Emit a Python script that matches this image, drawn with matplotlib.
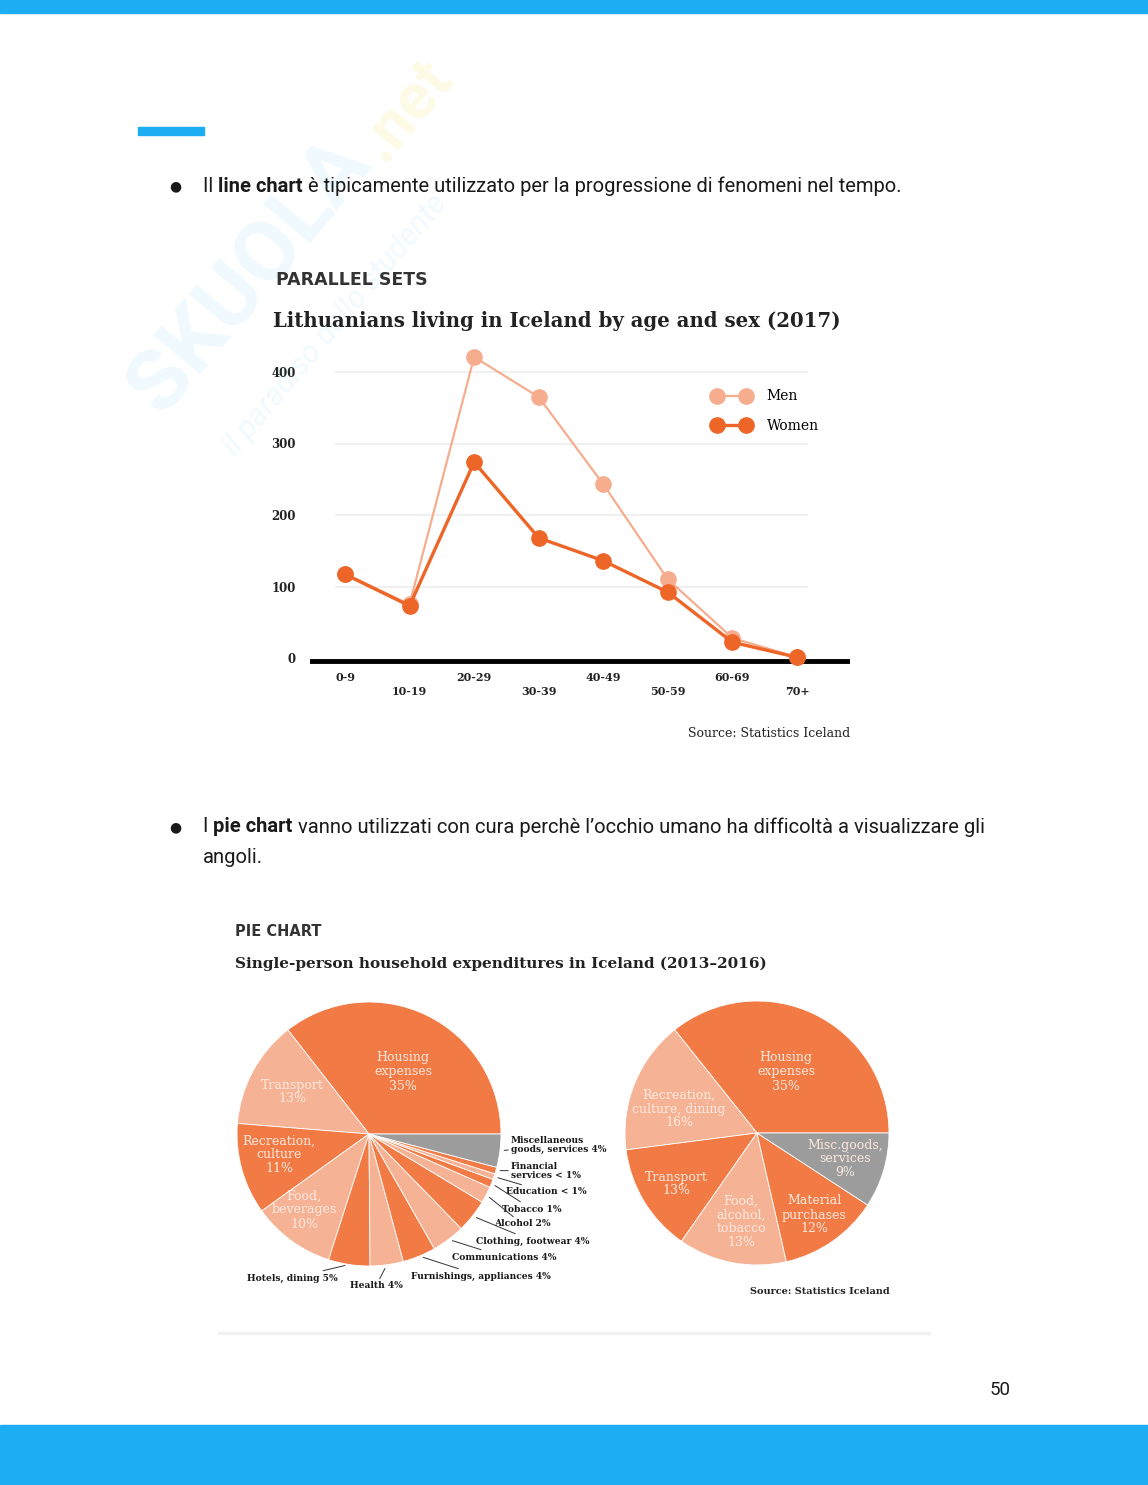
import matplotlib
matplotlib.use('Agg')
import matplotlib.pyplot as plt
from matplotlib.patches import Rectangle
import numpy as np

# page size in pixels
W, H = 1148, 1485

# --- line chart data ---
age_groups = ['0-9', '10-19', '20-29', '30-39', '40-49', '50-59', '60-69', '70+']
men = [118, 75, 421, 365, 243, 110, 28, 1]
women = [117, 73, 274, 168, 136, 92, 22, 1]

# --- pie chart data (left: detailed, right: grouped) ---
left_labels = ['Housing expenses', 'Transport', 'Recreation, culture', 'Food, beverages',
               'Hotels, dining', 'Health', 'Furnishings, appliances', 'Communications',
               'Clothing, footwear', 'Alcohol', 'Tobacco', 'Education', 'Financial services',
               'Miscellaneous goods, services']
left_values = [35, 13, 11, 10, 5, 4, 4, 4, 4, 2, 1, 0.7, 0.8, 4]

right_labels = ['Housing expenses', 'Recreation, culture, dining', 'Transport',
                'Food, alcohol, tobacco', 'Material purchases', 'Misc.goods, services']
right_values = [35, 16, 13, 13, 12, 9]

DARK = '#F27A45'
LIGHT = '#F6B294'
GREY = '#9C9C9C'
BLUE = '#1DADF2'
MEN_C = '#F6AD8E'
WOMEN_C = '#EE6528'

plt.rcParams['font.family'] = ['Roboto', 'DejaVu Sans']

fig = plt.figure(figsize=(W / 100, H / 100), dpi=100)
renderer = fig.canvas.get_renderer()


def fx(px):
    return px / W


def fy(py):
    return 1 - py / H


def rect(x0, y0, x1, y1, color, alpha=1.0):
    fig.patches.append(Rectangle((fx(x0), fy(y1)), (x1 - x0) / W, (y1 - y0) / H,
                                 transform=fig.transFigure, color=color, alpha=alpha, zorder=0))


def rich(x, y, parts, size=14.5):
    # draw text pieces one after another (normal / bold)
    for txt, weight in parts:
        t = fig.text(fx(x), fy(y), txt, fontsize=size, fontweight=weight, va='center',
                     color='#1a1a1a')
        x += t.get_window_extent(renderer).width


# page decoration
rect(0, 0, W, 13, BLUE)
rect(0, 1425, W, H, BLUE)
rect(138, 127, 204, 135, BLUE)
rect(218, 1332, 930, 1334, '#F2F2F2')

# watermark (faint)
fig.text(fx(250), fy(275), 'SKUOLA', rotation=50, fontsize=62, fontweight='bold',
         color=BLUE, alpha=0.07, ha='center', va='center', zorder=0)
fig.text(fx(405), fy(110), '.net', rotation=50, fontsize=46, fontweight='bold',
         color='#F2D400', alpha=0.10, ha='center', va='center', zorder=0)
fig.text(fx(335), fy(325), 'il paradiso dello studente', rotation=50, fontsize=22,
         color=BLUE, alpha=0.07, ha='center', va='center', zorder=0, style='italic')

# bullet texts
fig.text(fx(175), fy(186), '●', fontsize=10, va='center', ha='center', color='#1a1a1a')
rich(203, 186, [('Il ', 'normal'), ('line chart', 'bold'),
                (' è tipicamente utilizzato per la progressione di fenomeni nel tempo.', 'normal')])
fig.text(fx(175), fy(827), '●', fontsize=10, va='center', ha='center', color='#1a1a1a')
rich(203, 827, [('I ', 'normal'), ('pie chart', 'bold'),
                (' vanno utilizzati con cura perchè l’occhio umano ha difficoltà a visualizzare gli',
                 'normal')])
rich(203, 858, [('angoli.', 'normal')])
fig.text(fx(1000), fy(1390), '50', fontsize=13.5, va='center', ha='center', color='#1a1a1a')

# ---------------- line chart ----------------
fig.text(fx(276), fy(280), 'PARALLEL SETS', fontsize=12.5, fontweight='bold',
         family='DejaVu Sans', color='#333333', va='center')
fig.text(fx(273), fy(321), 'Lithuanians living in Iceland by age and sex (2017)', fontsize=14.2,
         fontweight='bold', family='DejaVu Serif', color='#222222', va='center')

ax_l, ax_r, ax_t, ax_b = 310, 850, 340, 665
ax = fig.add_axes([fx(ax_l), fy(ax_b), (ax_r - ax_l) / W, (ax_b - ax_t) / H])
ax.patch.set_alpha(0)
step = (797 - 345) / 7
ax.set_xlim(-(345 - ax_l) / step, 7 + (ax_r - 797) / step)
ppu = (658 - 372) / 400
ax.set_ylim(-(ax_b - 658) / ppu, (658 - ax_t) / ppu)
for s in ax.spines.values():
    s.set_visible(False)

x = np.arange(len(age_groups))
ax.hlines([100, 200, 300, 400], -0.15, 7.17, color='#EDEDED', lw=1.2, zorder=1)
ax.axhline(-4, color='black', lw=3.5, zorder=2)
ax.plot(x, men, color=MEN_C, lw=1.6, marker='o', ms=11, label='Men', zorder=3)
ax.plot(x, women, color=WOMEN_C, lw=2.4, marker='o', ms=11, label='Women', zorder=4)

ax.set_yticks([0, 100, 200, 300, 400])
ax.set_yticklabels(['0', '100', '200', '300', '400'], family='DejaVu Serif', fontweight='bold',
                   fontsize=8.5, color='#222222')
ax.tick_params(axis='y', length=0, pad=10)
ax.set_xticks([])
for i, lab in enumerate(age_groups):
    off = -0.037 if i % 2 == 0 else -0.083
    ax.text(i, off, lab, transform=ax.get_xaxis_transform(), ha='center', va='center',
            family='DejaVu Serif', fontweight='bold', fontsize=8, color='#222222')

ax.legend(loc='center left', bbox_to_anchor=(fx(700), fy(411)), bbox_transform=fig.transFigure,
          frameon=False, numpoints=2, handlelength=2.7, handletextpad=1.2, labelspacing=1.1,
          prop={'family': 'DejaVu Serif', 'size': 10})
fig.text(fx(850), fy(734), 'Source: Statistics Iceland', fontsize=9, family='DejaVu Serif',
         ha='right', va='center', color='#222222')

# ---------------- pie charts ----------------
fig.text(fx(235), fy(932), 'PIE CHART', fontsize=10.5, fontweight='bold', family='DejaVu Sans',
         color='#333333', va='center')
fig.text(fx(235), fy(964), 'Single-person household expenditures in Iceland (2013–2016)',
         fontsize=11, fontweight='bold', family='DejaVu Serif', color='#222222', va='center')


def pie_axes(cx, cy, R, values, colors):
    a = fig.add_axes([fx(cx - R), fy(cy + R), 2 * R / W, 2 * R / H])
    wedges, _ = a.pie(values, colors=colors, startangle=0, counterclock=True, radius=1,
                      wedgeprops=dict(edgecolor='white', linewidth=0.6))
    a.set_xlim(-1, 1)
    a.set_ylim(-1, 1)
    return a, wedges


def inner(a, cx, cy, R, px, py, lines, pct):
    a.text((px - cx) / R, (cy - py) / R, '\n'.join(lines) + '\n' + pct, ha='center', va='center',
           family='DejaVu Serif', fontsize=9, color='#FCE9DF', linespacing=1.1)


# left pie
lcx, lcy, lR = 369, 1134, 132
left_colors = [DARK, LIGHT] * 6 + [DARK, GREY]
pl, lw_ = pie_axes(lcx, lcy, lR, left_values, left_colors)
inner(pl, lcx, lcy, lR, 403, 1072, ['Housing', 'expenses'], '35%')
inner(pl, lcx, lcy, lR, 292, 1092, ['Transport'], '13%')
inner(pl, lcx, lcy, lR, 279, 1155, ['Recreation,', 'culture'], '11%')
inner(pl, lcx, lcy, lR, 304, 1210, ['Food,', 'beverages'], '10%')

# outside labels: index, text, pixel position of text anchor, alignment
outside = [
    (13, 'Miscellaneous\ngoods, services 4%', 511, 1145, 'left'),
    (12, 'Financial\nservices < 1%', 511, 1171, 'left'),
    (11, 'Education < 1%', 506, 1192, 'left'),
    (10, 'Tobacco 1%', 502, 1209, 'left'),
    (9, 'Alcohol 2%', 494, 1224, 'left'),
    (8, 'Clothing, footwear 4%', 476, 1241, 'left'),
    (7, 'Communications 4%', 452, 1257, 'left'),
    (6, 'Furnishings, appliances 4%', 411, 1276, 'left'),
    (5, 'Health 4%', 376, 1286, 'center'),
    (4, 'Hotels, dining 5%', 338, 1278, 'right'),
]
for idx, txt, px, py, ha in outside:
    w = lw_[idx]
    th = np.deg2rad((w.theta1 + w.theta2) / 2)
    tx, ty = (px - lcx) / lR, (lcy - py) / lR
    pl.annotate(txt, xy=(np.cos(th) * 1.0, np.sin(th) * 1.0), xytext=(tx, ty),
                ha=ha, va='center', family='DejaVu Serif', fontweight='bold', fontsize=6.6,
                color='#1a1a1a', linespacing=1.0, annotation_clip=False,
                arrowprops=dict(arrowstyle='-', color='#333333', lw=0.7, shrinkA=0, shrinkB=3))

# right pie
rcx, rcy, rR = 757, 1133, 132
right_colors = [DARK, LIGHT, DARK, LIGHT, DARK, GREY]
pr, rw_ = pie_axes(rcx, rcy, rR, right_values, right_colors)
inner(pr, rcx, rcy, rR, 786, 1072, ['Housing', 'expenses'], '35%')
inner(pr, rcx, rcy, rR, 679, 1109, ['Recreation,', 'culture, dining'], '16%')
inner(pr, rcx, rcy, rR, 676, 1184, ['Transport'], '13%')
inner(pr, rcx, rcy, rR, 741, 1222, ['Food,', 'alcohol,', 'tobacco'], '13%')
inner(pr, rcx, rcy, rR, 814, 1215, ['Material', 'purchases'], '12%')
inner(pr, rcx, rcy, rR, 845, 1159, ['Misc.goods,', 'services'], '9%')
fig.text(fx(890), fy(1291), 'Source: Statistics Iceland', fontsize=7, family='DejaVu Serif',
         fontweight='bold', ha='right', va='center', color='#222222')

fig.savefig('out.png', dpi=100)
